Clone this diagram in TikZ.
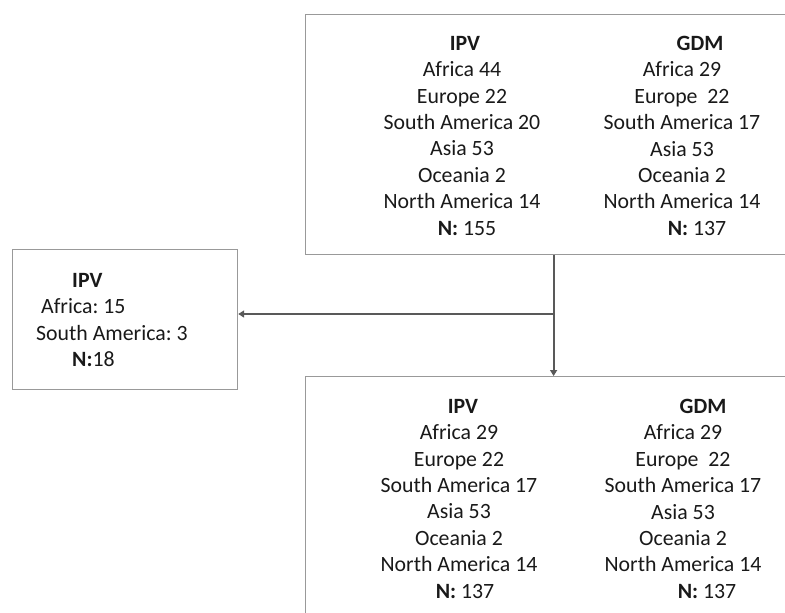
\documentclass[tikz,border=0pt]{standalone}
\usepackage{fontspec}
\setmainfont{Carlito}
\usetikzlibrary{arrows.meta}

\begin{document}
\begin{tikzpicture}[x=1pt, y=-1pt,
            box/.style = {draw=black!40, line width=1.2pt, rectangle, inner sep=0pt, anchor=north west},
            col/.style = {align=center, anchor=north, inner sep=0pt, text=black!90, font=\fontsize{21.8}{26.4}\selectfont\frenchspacing},
            link/.style = {draw=black!65, line width=2pt, -{Triangle[width=7pt,length=6pt]}}]
\useasboundingbox (0,0) rectangle (785,613);
\clip (0,0) rectangle (785,613);

% boxes
\node[box, minimum width=496pt, minimum height=240pt] (stage1) at (305,14) {};
\node[box, minimum width=496pt, minimum height=260pt] (stage2) at (305,376) {};
\node[box, minimum width=225pt, minimum height=140pt] (excluded) at (12,249) {};

% top box
\node[col] (ipv1) at (462,36) {\hspace*{6pt}\textbf{IPV}\\Africa 44\\Europe 22\\South America 20\\Asia 53\\Oceania 2\\North America 14\\\hspace*{10pt}\textbf{N:} 155};
\node[col] (gdm1) at (682,36) {\hspace*{36pt}\textbf{GDM}\\Africa 29\\Europe\ \ 22\\South America 17\\Asia 53\\Oceania 2\\North America 14\\\hspace*{30pt}\textbf{N:} 137};

% left box
\node[col, align=left, anchor=north west] (ipv0) at (36,273) {\hspace*{36pt}\textbf{IPV}\\\hspace*{5pt}Africa: 15\\South America: 3\\\hspace*{36pt}\textbf{N:}18};

% bottom box
\node[col] (ipv2) at (459,399) {\hspace*{8pt}\textbf{IPV}\\Africa 29\\Europe 22\\South America 17\\Asia 53\\Oceania 2\\North America 14\\\hspace*{12pt}\textbf{N:} 137};
\node[col] (gdm2) at (683,399) {\hspace*{40pt}\textbf{GDM}\\Africa 29\\Europe\ \ 22\\South America 17\\Asia 53\\Oceania 2\\North America 14\\\hspace*{48pt}\textbf{N:} 137};

% arrows
\coordinate (split) at (553,314);
\draw[link] (stage1.south) -- (stage2.north);
\draw[link] (split) -- (split -| excluded.east);

\end{tikzpicture}
\end{document}
